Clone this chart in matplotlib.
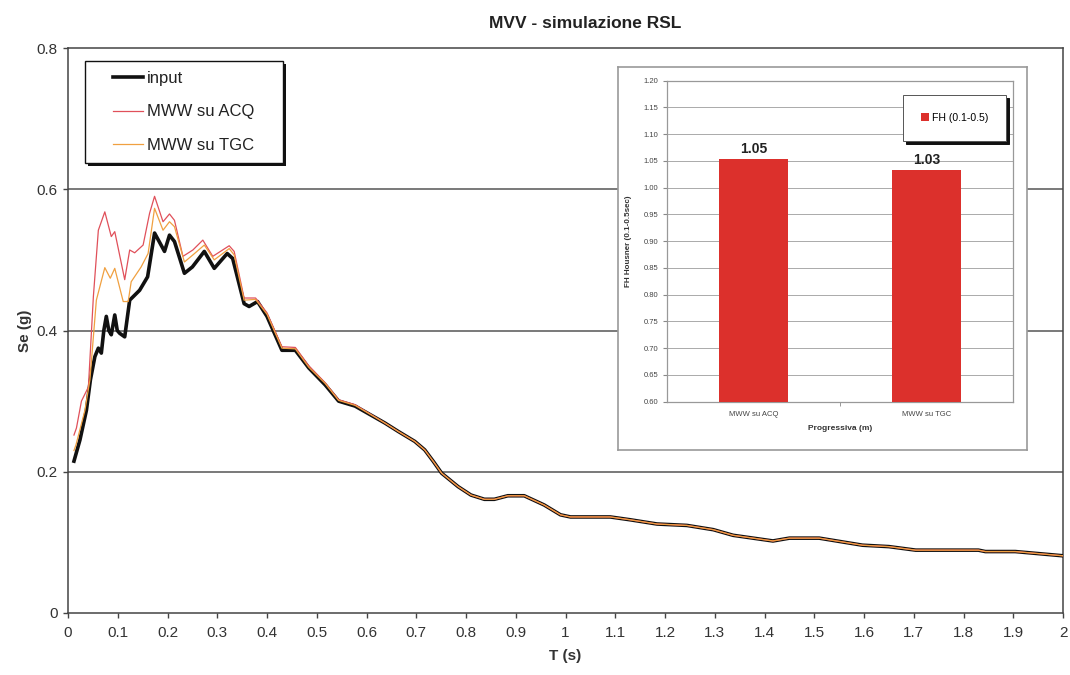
"""
MVV - simulazione RSL: spettri di risposta input vs. MWW su ACQ / TGC,
con riquadro del fattore di Housner FH (0.1-0.5 s).
"""
import numpy as np
import matplotlib
matplotlib.use("Agg")
import matplotlib.pyplot as plt
from matplotlib.patches import Rectangle
from matplotlib.ticker import FuncFormatter

plt.rcParams["font.family"] = ["Liberation Sans", "DejaVu Sans"]

# ── spettri: tratto iniziale di ciascuna serie ─────────────────
T_input = [0.012, 0.024, 0.037, 0.045, 0.054, 0.061, 0.067, 0.072, 0.077, 0.082,
           0.087, 0.094, 0.099, 0.104, 0.114, 0.124, 0.144, 0.160, 0.174, 0.184,
           0.194, 0.204, 0.214, 0.234, 0.250, 0.274, 0.294, 0.320, 0.331, 0.354,
           0.364, 0.381, 0.400, 0.430, 0.457, 0.484, 0.517, 0.544, 0.577]
Se_input = [0.215, 0.245, 0.287, 0.330, 0.363, 0.375, 0.368, 0.400, 0.420, 0.400,
            0.394, 0.422, 0.400, 0.396, 0.391, 0.443, 0.457, 0.476, 0.538, 0.525,
            0.512, 0.535, 0.526, 0.481, 0.490, 0.512, 0.488, 0.509, 0.502, 0.438,
            0.434, 0.441, 0.420, 0.372, 0.372, 0.347, 0.323, 0.300, 0.293]

T_acq = [0.012, 0.017, 0.027, 0.041, 0.051, 0.061, 0.074, 0.087, 0.094, 0.114,
         0.124, 0.134, 0.151, 0.164, 0.174, 0.191, 0.204, 0.214, 0.231, 0.251,
         0.271, 0.291, 0.324, 0.334, 0.354, 0.377, 0.400, 0.430, 0.457, 0.484,
         0.517, 0.544, 0.577]
Se_acq = [0.252, 0.262, 0.300, 0.320, 0.448, 0.542, 0.568, 0.533, 0.540, 0.472,
          0.514, 0.510, 0.521, 0.566, 0.590, 0.554, 0.565, 0.556, 0.505, 0.514,
          0.528, 0.505, 0.520, 0.512, 0.446, 0.446, 0.425, 0.377, 0.376, 0.350,
          0.326, 0.302, 0.295]

T_tgc = [0.012, 0.016, 0.034, 0.044, 0.057, 0.074, 0.085, 0.094, 0.111, 0.121,
         0.127, 0.147, 0.161, 0.174, 0.191, 0.204, 0.214, 0.234, 0.251, 0.274,
         0.294, 0.324, 0.334, 0.354, 0.377, 0.400, 0.430, 0.457, 0.484, 0.517,
         0.544, 0.577]
Se_tgc = [0.230, 0.238, 0.287, 0.330, 0.443, 0.489, 0.474, 0.488, 0.441, 0.441,
          0.469, 0.490, 0.509, 0.573, 0.542, 0.554, 0.547, 0.497, 0.507, 0.521,
          0.500, 0.516, 0.507, 0.443, 0.444, 0.423, 0.375, 0.374, 0.348, 0.325,
          0.301, 0.294]

# ── tratto finale, comune alle tre serie (le curve coincidono) ─
T_tail = [0.637, 0.664, 0.697, 0.717, 0.735, 0.751, 0.784, 0.810, 0.837, 0.857,
          0.884, 0.917, 0.957, 0.990, 1.010, 1.090, 1.130, 1.184, 1.244, 1.297,
          1.337, 1.417, 1.450, 1.510, 1.597, 1.650, 1.704, 1.830, 1.844, 1.904,
          2.000]
Se_tail = [0.269, 0.257, 0.243, 0.231, 0.214, 0.198, 0.179, 0.167, 0.161, 0.161,
           0.166, 0.166, 0.153, 0.139, 0.136, 0.136, 0.132, 0.126, 0.124, 0.118,
           0.110, 0.102, 0.106, 0.106, 0.096, 0.094, 0.089, 0.089, 0.087, 0.087,
           0.081]

# ── riquadro FH ─────────────────────────────────────────────────
fh_labels = ["MWW su ACQ", "MWW su TGC"]
fh_values = [1.053, 1.033]
fh_text = ["1.05", "1.03"]

C_INPUT = "#111111"
C_ACQ = "#e0505a"
C_TGC = "#f0a040"
C_BAR = "#dc302c"

W, H = 1070, 675
fig = plt.figure(figsize=(W / 100, H / 100), dpi=100)
ax = fig.add_axes([68 / W, 62 / H, 995 / W, 565 / H])

ax.plot(T_input + T_tail, Se_input + Se_tail, color=C_INPUT, lw=2.6,
        label="input", zorder=3, solid_joinstyle="round")
ax.plot(T_acq + T_tail, Se_acq + Se_tail, color=C_ACQ, lw=0.9,
        label="MWW su ACQ", zorder=4)
ax.plot(T_tgc + T_tail, Se_tgc + Se_tail, color=C_TGC, lw=0.9,
        label="MWW su TGC", zorder=5)

ax.set_xlim(0, 2)
ax.set_ylim(0, 0.8)
ax.set_xticks(np.round(np.arange(0, 2.01, 0.1), 1))
ax.set_yticks([0, 0.2, 0.4, 0.6, 0.8])
ax.xaxis.set_major_formatter(FuncFormatter(lambda v, p: f"{v:g}"))
ax.yaxis.set_major_formatter(FuncFormatter(lambda v, p: f"{v:g}"))
ax.tick_params(direction="out", length=3.5, width=1, colors="#444",
               labelcolor="#333", labelsize=11, pad=4)
ax.tick_params(axis="x", pad=6)
for s in ax.spines.values():
    s.set_color("#444")
    s.set_linewidth(1.1)
for y in [0.2, 0.4, 0.6]:
    ax.axhline(y, color="#555", lw=1.1, zorder=1)

ax.set_xlabel("T (s)", fontsize=11, fontweight="bold", color="#333", labelpad=6)
ax.set_ylabel("Se (g)", fontsize=11, fontweight="bold", color="#333", labelpad=3)
fig.text(585 / W, 1 - 23 / H, "MVV - simulazione RSL", ha="center",
         va="center", fontsize=12.5, fontweight="bold", color="#222")

# legenda principale: cornice con ombra nera disegnata a mano
to_ax = lambda px, py: ((px - 68) / 995, (613 - py) / 565)
x0, y1 = to_ax(85, 61)
x1, y0 = to_ax(283, 163)
dx, dy = 3 / 995, 3 / 565
ax.add_patch(Rectangle((x0 + dx, y0 - dy), x1 - x0, y1 - y0, transform=ax.transAxes,
                       facecolor="#111", edgecolor="none", zorder=8))
ax.add_patch(Rectangle((x0, y0), x1 - x0, y1 - y0, transform=ax.transAxes,
                       facecolor="white", edgecolor="#111", lw=1.0, zorder=9))
leg = ax.legend(loc="upper left", bbox_to_anchor=to_ax(113, 71), borderaxespad=0,
                borderpad=0, fontsize=12, frameon=False, handlelength=1.8,
                handletextpad=0.25, labelspacing=1.1)
for t in leg.get_texts():
    t.set_color("#222")
leg.set_zorder(10)

# cornice bianca del grafico inserito
frame = fig.add_axes([618 / W, 225 / H, 409 / W, 383 / H], zorder=2)
frame.set_xticks([])
frame.set_yticks([])
frame.set_facecolor("white")
for s in frame.spines.values():
    s.set_color("#999")
    s.set_linewidth(1.2)

ins = fig.add_axes([666.7 / W, 273.3 / H, 346.3 / W, 321 / H], zorder=3)
xpos = np.arange(len(fh_labels))
ins.bar(xpos, [v - 0.6 for v in fh_values], bottom=0.6, width=0.4,
        color=C_BAR, label="FH (0.1-0.5)", zorder=3)
for x, v, t in zip(xpos, fh_values, fh_text):
    ins.text(x, v + 0.006, t, ha="center", va="bottom", fontsize=10,
             fontweight="bold", color="#222")
ins.set_xlim(-0.5, 1.5)
ins.set_ylim(0.6, 1.2)
ins.set_yticks(np.round(np.arange(0.6, 1.201, 0.05), 2))
ins.yaxis.set_major_formatter(FuncFormatter(lambda v, p: f"{v:.2f}"))
ins.set_xticks(xpos)
ins.set_xticklabels(fh_labels)
ins.set_xticks([0.5], minor=True)
ins.tick_params(axis="x", which="major", length=0, labelsize=5.5, pad=7,
                labelcolor="#444")
ins.tick_params(axis="x", which="minor", length=3, color="#888")
ins.tick_params(axis="y", length=3, color="#888", labelsize=5.5,
                labelcolor="#444", pad=3)
ins.grid(axis="y", color="#aaa", lw=0.7, zorder=0)
for s in ins.spines.values():
    s.set_color("#999")
    s.set_linewidth(0.9)
ins.set_ylabel("FH Housner (0.1-0.5sec)", fontsize=5.8, fontweight="bold",
               color="#333", labelpad=8)
ins.set_xlabel("Progressiva (m)", fontsize=6, fontweight="bold", color="#333",
               labelpad=5)
ileg = ins.legend(loc="upper right", bbox_to_anchor=(0.98, 0.955), borderaxespad=0,
                  fontsize=7.6, frameon=True, fancybox=False, framealpha=1,
                  edgecolor="#555", handlelength=0.8, handleheight=0.8,
                  handletextpad=0.25, borderpad=1.7,
                  shadow={"color": "#111", "alpha": 1, "ox": 2, "oy": -2})
ileg.get_frame().set_linewidth(0.7)
ileg.set_zorder(10)

fig.savefig("out.png", dpi=100)
